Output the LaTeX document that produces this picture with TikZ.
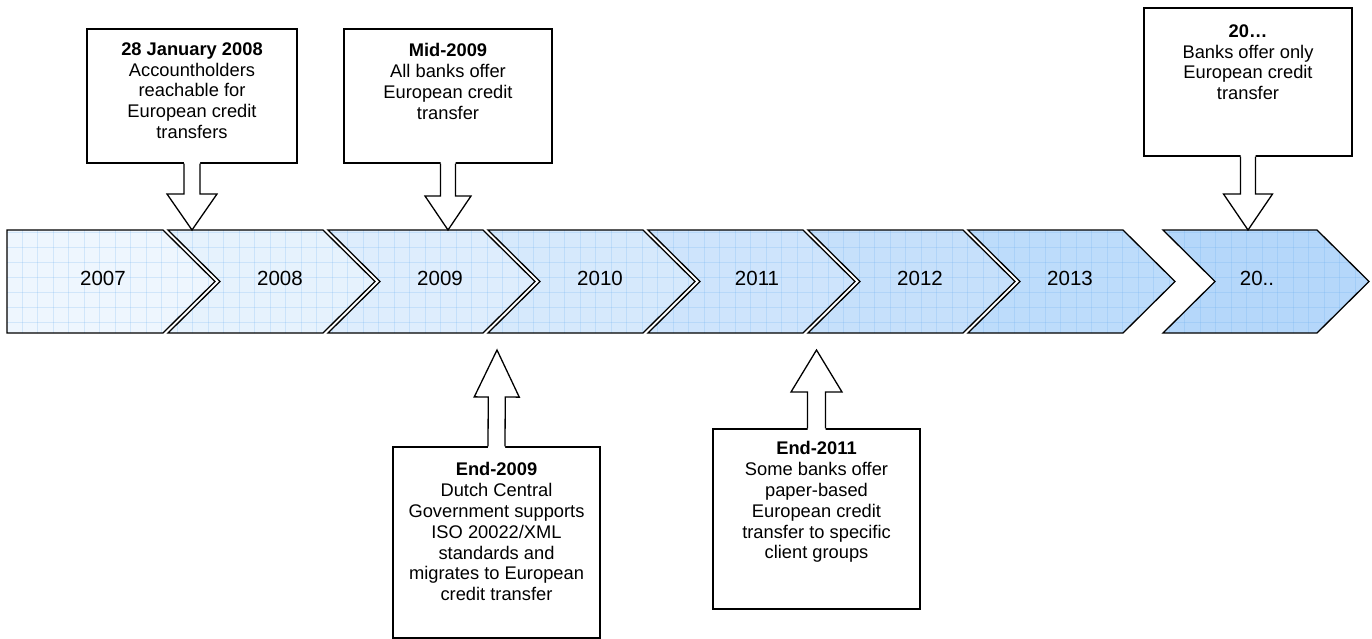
\documentclass[tikz,border=0pt]{standalone}
\usepackage{fontspec}
\setmainfont{Liberation Sans}
\usetikzlibrary{calc}

\definecolor{chevA}{HTML}{EEF6FE}
\definecolor{chevB}{HTML}{B5D7FA}
\definecolor{gridblue}{HTML}{5FA8EE}

\tikzset{
  chevron/.style={draw=black, line width=1.3pt, line join=miter},
  gridline/.style={draw=gridblue, draw opacity=0.2, line width=0.55pt},
  yearlabel/.style={anchor=base, inner sep=0pt, font=\fontsize{20.5}{24}\selectfont},
  calloutbox/.style={draw=black, fill=white, line width=1.3pt, inner sep=0pt},
  callouttext/.style={anchor=north, inner sep=0pt, align=center,
    font=\fontsize{18.3}{20.8}\selectfont},
  arrowline/.style={draw=black, line width=1.3pt, line join=miter},
}

% block arrow from a box anchor (#1) to a tip (#2);
% #3 head length, #4 shaft half width, #5 head half width
\newcommand\blockarrow[5]{%
  \coordinate (ba-s) at (#1);
  \coordinate (ba-t) at (#2);
  \coordinate (ba-o) at ($(ba-s)!-1.6pt!(ba-t)$);
  \coordinate (ba-h) at ($(ba-t)!#3!(ba-s)$);
  \fill[white] ($(ba-o)!#4!90:(ba-t)$) -- ($(ba-h)!#4!90:(ba-t)$)
    -- ($(ba-h)!#5!90:(ba-t)$) -- (ba-t) -- ($(ba-h)!#5!-90:(ba-t)$)
    -- ($(ba-h)!#4!-90:(ba-t)$) -- ($(ba-o)!#4!-90:(ba-t)$) -- cycle;
  \draw[arrowline] ($(ba-s)!#4!90:(ba-t)$) -- ($(ba-h)!#4!90:(ba-t)$)
    -- ($(ba-h)!#5!90:(ba-t)$) -- (ba-t) -- ($(ba-h)!#5!-90:(ba-t)$)
    -- ($(ba-h)!#4!-90:(ba-t)$) -- ($(ba-s)!#4!-90:(ba-t)$);
}

\newcommand\chevgrid{%
  \foreach \i in {0,...,88} \draw[gridline] ({6.5+15.5*\i},225) -- ++(0,115);
  \foreach \j in {0,...,6} \draw[gridline] (0,{232.7+15*\j}) -- (1372,{232.7+15*\j});
}

\begin{document}
\begin{tikzpicture}[x=1pt,y=-1pt]
\useasboundingbox (0,0) rectangle (1372,639);

% first segment, flat on the left
\begin{scope}
  \path[clip] (7,230) -- (163,230) -- (215,281.5) -- (163,333) -- (7,333) -- cycle;
  \fill[chevA] (0,225) rectangle (230,340);
  \chevgrid
\end{scope}
\draw[chevron] (7,230) -- (163,230) -- (215,281.5) -- (163,333) -- (7,333) -- cycle;

% remaining segments, darkening towards the right
\foreach \L/\R/\k in {168/323/1,328/483/2,488/643/3,648/803/4,808/963/5,968/1123/6,1163/1317/7} {
  \pgfmathtruncatemacro\pct{\k*100/7}
  \begin{scope}
    \path[clip] (\L,230) -- (\R,230) -- ++(52,51.5) -- (\R,333) -- (\L,333) -- ++(52,-51.5) -- cycle;
    \fill[chevB!\pct!chevA] (\L-5,225) rectangle (\R+60,340);
    \chevgrid
  \end{scope}
  \draw[chevron] (\L,230) -- (\R,230) -- ++(52,51.5) -- (\R,333) -- (\L,333) -- ++(52,-51.5) -- cycle;
}

% year labels
\node[yearlabel] (y2007) at (103,285) {2007};
\node[yearlabel] (y2008) at (280,285) {2008};
\node[yearlabel] (y2009) at (440,285) {2009};
\node[yearlabel] (y2010) at (600,285) {2010};
\node[yearlabel] (y2011) at (757,285) {2011};
\node[yearlabel] (y2012) at (920,285) {2012};
\node[yearlabel] (y2013) at (1070,285) {2013};
\node[yearlabel] (y20xx) at (1257,285) {20..};

% arrow tips on the timeline
\coordinate (tip1) at (192,230);
\coordinate (tip2) at (448,230);
\coordinate (tip3) at (1248,230);
\coordinate (tip4) at (497,350);
\coordinate (tip5) at (816.5,350);

% callouts above
\node[calloutbox, minimum width=210, minimum height=134] (cb1) at (192,96) {};
\node[callouttext] (ct1) at ($(cb1.north)+(0,14)$)
  {\textbf{28 January 2008}\\Accountholders\\reachable for\\European credit\\transfers};
\blockarrow{cb1.south}{tip1}{36pt}{8pt}{25pt}

\node[calloutbox, minimum width=208, minimum height=134] (cb2) at (448,96) {};
\node[callouttext] (ct2) at ($(cb2.north)+(0,15)$)
  {\textbf{Mid-2009}\\All banks offer\\European credit\\transfer};
\blockarrow{cb2.south}{tip2}{34pt}{7.5pt}{23pt}

\node[calloutbox, minimum width=208, minimum height=148] (cb3) at (1248,82) {};
\node[callouttext] (ct3) at ($(cb3.north)+(0,17)$)
  {\textbf{20…}\\Banks offer only\\European credit\\transfer};
\blockarrow{cb3.south}{tip3}{36pt}{7.5pt}{24.5pt}

% callouts below
\node[calloutbox, minimum width=207, minimum height=191] (cb4) at (496.5,542.5) {};
\node[callouttext] (ct4) at ($(cb4.north)+(0,16)$)
  {\textbf{End-2009}\\Dutch Central\\Government supports\\ISO 20022/XML\\standards and\\migrates to European\\credit transfer};
\blockarrow{cb4.north}{tip4}{47pt}{8.5pt}{22.5pt}

\node[calloutbox, minimum width=207, minimum height=180] (cb5) at (816.5,519) {};
\node[callouttext] (ct5) at ($(cb5.north)+(0,13)$)
  {\textbf{End-2011}\\Some banks offer\\paper-based\\European credit\\transfer to specific\\client groups};
\blockarrow{cb5.north}{tip5}{42pt}{9pt}{25.5pt}
\end{tikzpicture}
\end{document}
